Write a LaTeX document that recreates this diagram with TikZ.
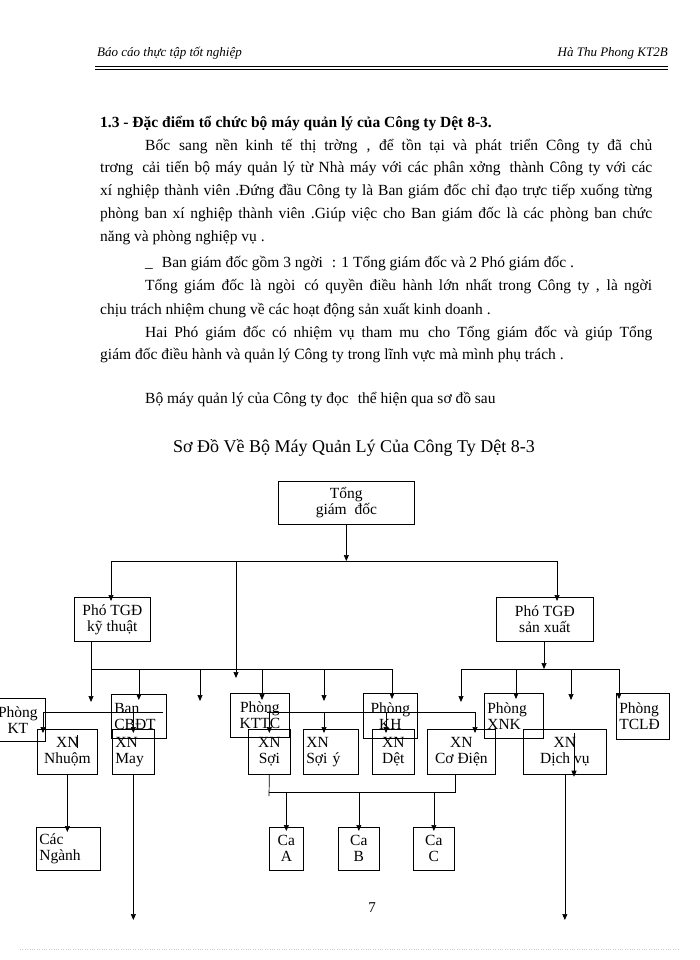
\documentclass[tikz,border=0pt]{standalone}
\usepackage{fontspec}
\setmainfont{Liberation Serif}
\usetikzlibrary{arrows.meta,calc}

\newcommand{\gp}{\hspace{9pt}}

\tikzset{
  txt/.style={anchor=base west, inner sep=0pt, font=\fontsize{15.5}{18}\selectfont},
  box/.style={draw, line width=0.7pt, anchor=north west, inner xsep=3pt, inner ysep=1pt, align=center, font=\fontsize{15.5}{16}\selectfont},
  boxl/.style={box, align=left},
  ln/.style={line width=0.7pt},
  arr/.style={line width=0.7pt, -{Triangle[length=6pt,width=5pt]}}
}

\begin{document}
\begin{tikzpicture}[x=1pt, y=-1pt]
\useasboundingbox (0,0) rectangle (700,960);

% header
\node[anchor=base west, inner sep=0pt, font=\fontsize{13}{14}\selectfont\itshape] (hl) at (97,57) {Báo cáo thực tập tốt nghiệp};
\node[anchor=base east, inner sep=0pt, font=\fontsize{13}{14}\selectfont\itshape] (hr) at (668,57) {Hà Thu Phong KT2B};
\draw[line width=1.5pt] (95,66.5) -- (668,66.5);
\draw[line width=0.5pt] (95,69.5) -- (668,69.5);

% text
\node[txt, font=\fontsize{15.5}{18}\selectfont\bfseries] (h13) at (100,128) {1.3 - Đặc điểm tổ chức bộ máy quản lý của Công ty Dệt 8-3.};
\node[txt] (p1) at (145,151) {\makebox[507pt][s]{Bốc\gp sang nền kinh tế thị trờng\gp , để tồn tại và phát triển Công ty đã chủ}};
\node[txt] (p2) at (100,173) {\makebox[552pt][s]{trơng\gp cải tiến bộ máy quản lý từ Nhà máy với các phân xởng\gp thành Công ty với các}};
\node[txt] (p3) at (100,196) {\makebox[552pt][s]{xí nghiệp thành viên .Đứng đầu Công ty là Ban giám đốc chỉ đạo trực tiếp xuống từng}};
\node[txt] (p4) at (100,218) {\makebox[552pt][s]{phòng ban xí nghiệp thành viên .Giúp việc cho Ban giám đốc là các phòng ban chức}};
\node[txt] (p5) at (100,241) {năng và phòng nghiệp vụ .};
\node[txt] (p6) at (145,267) {\_\gp Ban giám đốc gồm 3 ngời\gp : 1 Tổng giám đốc và 2 Phó giám đốc .};
\node[txt] (p7) at (145,290) {\makebox[507pt][s]{Tổng giám đốc là ngòi\gp có quyền điều hành lớn nhất trong Công ty , là ngời}};
\node[txt] (p8) at (100,314) {chịu trách nhiệm chung về các hoạt động sản xuất kinh doanh .};
\node[txt] (p9) at (145,337) {\makebox[507pt][s]{Hai Phó giám đốc có nhiệm vụ tham mu\gp cho Tổng giám đốc và giúp Tổng}};
\node[txt] (p10) at (100,359) {giám đốc điều hành và quản lý Công ty trong lĩnh vực mà mình phụ trách .};
\node[txt] (p11) at (145,403) {Bộ máy quản lý của Công ty đọc\gp thể hiện qua sơ đồ sau};

\node[font=\fontsize{18}{20}\selectfont] (title) at (354,448) {Sơ Đồ Về Bộ Máy Quản Lý Của Công Ty Dệt 8-3};

% boxes
\node[box, minimum width=136, minimum height=43] (tgd) at (278,481) {Tổng\\giám\ \ đốc};
\node[box, minimum width=76, minimum height=44] (ptkt) at (74,597) {Phó TGĐ\\kỹ thuật};
\node[box, minimum width=97, minimum height=44] (ptsx) at (496,597) {Phó TGĐ\\sản xuất};

\node[box, minimum width=55, minimum height=43] (pkt) at (-10,698) {Phòng\\KT};
\node[boxl, text width=49, minimum height=44] (ban) at (111,694) {Ban\\CBĐT};
\node[box, minimum width=59, minimum height=44] (kttc) at (230,693) {Phòng\\KTTC};
\node[box, minimum width=54, minimum height=45] (kh) at (363,693) {Phòng\\KH};
\node[boxl, text width=53, minimum height=45] (xnk) at (484,693) {Phòng\\XNK};
\node[boxl, text width=47, minimum height=46] (tcld) at (616,693) {Phòng\\TCLĐ};

\node[box, minimum width=60, minimum height=45] (nhuom) at (37,729) {XN\\Nhuộm};
\node[boxl, text width=36, minimum height=45] (may) at (112,729) {XN\\May};
\node[box, minimum width=42, minimum height=45] (soi) at (248,729) {XN\\Sợi};
\node[boxl, text width=49, minimum height=45] (soiy) at (303,729) {XN\\Sợi ý};
\node[box, minimum width=42, minimum height=45] (det) at (372,729) {XN\\Dệt};
\node[box, minimum width=68, minimum height=45] (codien) at (427,729) {XN\\Cơ Điện};
\node[box, minimum width=83, minimum height=45] (dichvu) at (523,729) {XN\\Dịch vụ};

\node[boxl, text width=58, minimum height=43] (nganh) at (36,827) {Các\\Ngành};
\node[box, minimum width=34, minimum height=43] (caa) at (269,827) {Ca\\A};
\node[box, minimum width=41, minimum height=43] (cab) at (338,827) {Ca\\B};
\node[box, minimum width=41, minimum height=43] (cac) at (413,827) {Ca\\C};

\node[font=\fontsize{15}{16}\selectfont] (pg) at (372,908) {7};
\draw[gray!40, dotted] (20,949) -- (680,949);

% top level
\coordinate (t1) at (111,561);
\coordinate (t2) at (557,561);
\coordinate (m1) at (236,678);
\draw[arr] (tgd.south) -- (tgd.south |- t1);
\draw[ln] (t1) -- (t2);
\draw[arr] (t1) -- ($(t1 |- ptkt.north)+(0,4)$);
\draw[arr] (t2) -- ($(t2 |- ptsx.north)+(0,4)$);
\draw[arr] (m1 |- t1) -- (m1);

% left bus
\coordinate (l1) at (91,669);
\coordinate (l2) at (392,669);
\coordinate (e1) at (91,702);
\coordinate (e2) at (200,701);
\coordinate (e3) at (324,701);
\coordinate (k1) at (262,669);
\draw[arr] (l1 |- ptkt.south) -- (e1);
\draw[ln] (l1) -- (l2);
\draw[arr] (ban.north |- l1) -- ($(ban.north)+(0,6)$);
\draw[arr] (e2 |- l1) -- (e2);
\draw[arr] (k1) -- ($(k1 |- kttc.north)+(0,7)$);
\draw[arr] (e3 |- l1) -- (e3);
\draw[arr] (l2) -- ($(l2 |- kh.north)+(0,6)$);

% right bus
\coordinate (r0) at (544,669);
\coordinate (r1) at (461,669);
\coordinate (r2) at (619,669);
\coordinate (e4) at (461,702);
\coordinate (e5) at (571,700);
\coordinate (x1) at (516,669);
\draw[arr] (r0 |- ptsx.south) -- (r0);
\draw[ln] (r1) -- (r2);
\draw[arr] (r1) -- (e4);
\draw[arr] (x1) -- ($(x1 |- xnk.north)+(0,6)$);
\draw[arr] (e5 |- r1) -- (e5);
\draw[arr] (r2) -- ($(r2 |- tcld.north)+(0,6)$);

% second level
\coordinate (s1) at (43,712);
\coordinate (s2) at (163,712);
\coordinate (s3) at (267,712);
\coordinate (s4) at (475,712);
\coordinate (d1) at (386,712);
\draw[ln] (s1) -- (s2);
\draw[arr] (s1) -- ($(s1 |- nhuom.north)+(0,4)$);
\draw[arr] (may.north |- s1) -- ($(may.north)+(0,4)$);
\draw[ln] (s3) -- (s4);
\draw[arr] (soi.north |- s3) -- ($(soi.north)+(0,4)$);
\draw[arr] (e3 |- s3) -- ($(e3 |- soiy.north)+(0,4)$);
\draw[arr] (d1) -- ($(d1 |- det.north)+(0,4)$);
\draw[arr] (s4) -- ($(s4 |- codien.north)+(0,4)$);
\draw[ln] ($(nhuom.north west)+(40,6)$) -- +(0,13);
\draw[arr] ($(dichvu.north west)+(51,4)$) -- ($(dichvu.south west)+(51,2)$);

% lower
\coordinate (mayend) at (133,920);
\coordinate (dvend) at (566,920);
\coordinate (c1) at (269,792);
\coordinate (c2) at (455,792);
\draw[arr] (nhuom.south) -- ($(nhuom.south |- nganh.north)+(0,5)$);
\draw[arr] (may.south) -- (may.south |- mayend);
\draw[arr] (dichvu.south) -- (dichvu.south |- dvend);
\draw[ln] (soi.south) -- ($(c1)+(0,4)$);
\draw[ln] (c1) -- (c2) -- (c2 |- codien.south);
\draw[arr] (caa.north |- c1) -- ($(caa.north)+(0,4)$);
\draw[arr] (cab.north |- c1) -- ($(cab.north)+(0,4)$);
\draw[arr] (cac.north |- c1) -- ($(cac.north)+(0,4)$);
\end{tikzpicture}
\end{document}
